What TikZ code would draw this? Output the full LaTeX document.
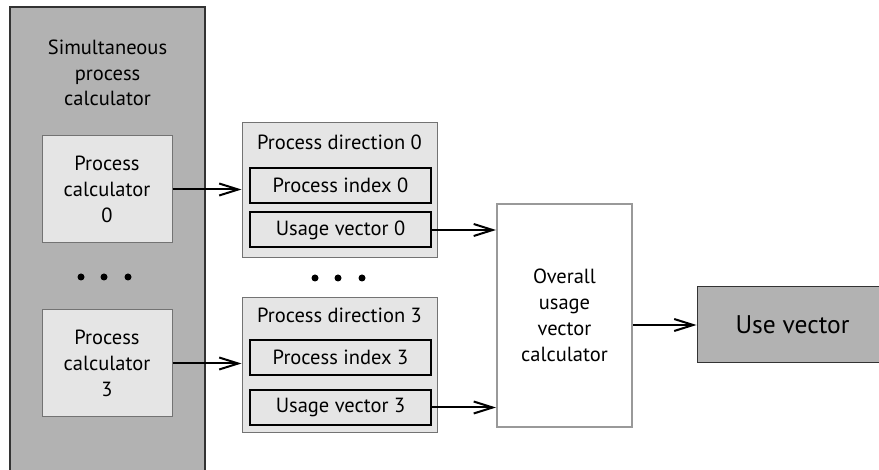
\documentclass[tikz,border=0pt]{standalone}
\usepackage{fontspec}
\setmainfont{PT Sans}
\usetikzlibrary{arrows.meta}

\begin{document}
\begin{tikzpicture}[x=1pt,y=-1pt]
\tikzset{bloc/.style={draw, rectangle, inner sep=0pt, align=center, font=\fontsize{20.5}{26}\selectfont},
  sim/.style={bloc, draw=black!80, fill=black!30, line width=1.5pt, minimum width=195pt, minimum height=480pt},
  calc/.style={bloc, draw=black!55, fill=black!10, line width=1pt, minimum width=130pt, minimum height=107pt},
  dir/.style={bloc, draw=black!55, fill=black!10, line width=1pt, minimum width=195pt, minimum height=135pt},
  champ/.style={bloc, draw=black, fill=black!10, line width=2pt, minimum width=181pt, minimum height=35pt},
  total/.style={bloc, draw=black!40, fill=white, line width=2pt, minimum width=135pt, minimum height=223pt},
  sortie/.style={bloc, draw=black!80, fill=black!30, line width=1pt, minimum width=191pt, minimum height=76pt, font=\fontsize{25.5}{30}\selectfont},
  titre/.style={align=center, inner sep=0pt, font=\fontsize{20.5}{25.5}\selectfont},
  fleche/.style={-{Straight Barb[length=19pt,width=12pt,line width=2pt]}, line width=2pt}}
\clip (0,0) rectangle (879,470);
% left column
\node[sim] (spc) at (107.5,247) {};
\node[titre] (spct) at (107.5,73) {Simultaneous\\process\\calculator};
\node[calc] (pc0) at (107,189.5) {Process\\calculator\\0};
\node[calc] (pc3) at (107,363.5) {Process\\calculator\\3};
\foreach \x in {81,104,128} \fill (\x,277) circle (3.5);
% process directions
\node[dir] (pd0) at (339.5,190.5) {};
\node[titre] (pd0t) at (339.5,142) {Process direction 0};
\node[champ] (pi0) at (340.5,185.5) {Process index 0};
\node[champ] (uv0) at (340.5,230) {Usage vector 0};
\node[dir] (pd3) at (339.5,365) {};
\node[titre] (pd3t) at (339.5,315) {Process direction 3};
\node[champ] (pi3) at (340.5,357.5) {Process index 3};
\node[champ] (uv3) at (340.5,407.5) {Usage vector 3};
\foreach \x in {315,338,362} \fill (\x,278) circle (3.5);
% right part
\node[total] (ovc) at (564.5,315.5) {Overall\\usage\\vector\\calculator};
\node[sortie] (use) at (792.5,325) {Use vector};
\draw[fleche] (pc0.east) -- (pc0.east -| pd0.west);
\draw[fleche] (pc3.east) -- (pc3.east -| pd3.west);
\draw[fleche] (uv0.east) -- (uv0.east -| ovc.west);
\draw[fleche] (uv3.east) -- (uv3.east -| ovc.west);
\draw[fleche] (ovc.east |- use.west) -- (use.west);
\end{tikzpicture}
\end{document}
